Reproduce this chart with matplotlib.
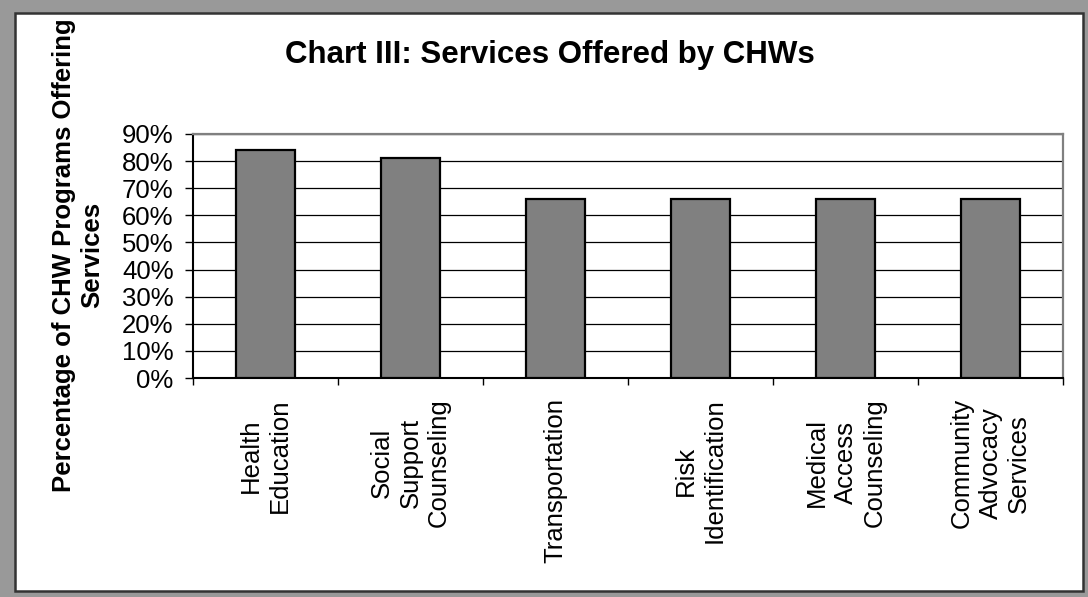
import matplotlib
matplotlib.use("Agg")
import matplotlib.pyplot as plt
from matplotlib.patches import Rectangle
from matplotlib.ticker import FixedLocator, PercentFormatter
import numpy as np

plt.rcParams['font.family'] = ['Liberation Sans', 'DejaVu Sans']

categories = ["Health\nEducation", "Social\nSupport\nCounseling", "Transportation",
              "Risk\nIdentification", "Medical\nAccess\nCounseling",
              "Community\nAdvocacy\nServices"]
values = [0.84, 0.81, 0.66, 0.66, 0.66, 0.66]
y_ticks = [0.0, 0.1, 0.2, 0.3, 0.4, 0.5, 0.6, 0.7, 0.8, 0.9]

W, H = 1088, 597
fig = plt.figure(figsize=(W / 100, H / 100), dpi=100, facecolor="#999999")

# White chart panel with a dark frame, kept behind the axes
panel = Rectangle((15 / W, 1 - 591 / H), (1083 - 15) / W, (591 - 13) / H,
                  transform=fig.transFigure, facecolor="white",
                  edgecolor="#333333", linewidth=1.8, zorder=-5)
fig.patches.append(panel)

ax = fig.add_axes([193 / W, 1 - 378 / H, (1063 - 193) / W, (378 - 134) / H])
ax.set_facecolor("white")

x = np.arange(len(categories))
ax.bar(x, values, width=0.41, color="#808080", edgecolor="black",
       linewidth=1.6, zorder=3)

ax.set_xlim(-0.5, len(categories) - 0.5)
ax.set_ylim(0, 0.9)
ax.set_yticks(y_ticks)
ax.yaxis.set_major_formatter(PercentFormatter(1.0, decimals=0))
ax.grid(axis="y", color="black", linewidth=0.9, zorder=1)
ax.set_axisbelow(True)

ax.set_xticks(x)
ax.set_xticklabels(categories, rotation=90, ha="center", va="top",
                   multialignment="center", linespacing=1.25)
ax.xaxis.set_minor_locator(FixedLocator(np.arange(-0.5, len(categories), 1.0)))
ax.tick_params(axis="x", which="major", length=0, pad=14.5, labelsize=18.5)
ax.tick_params(axis="x", which="minor", length=5, width=1.0, direction="out",
               color="black")
ax.tick_params(axis="y", length=6, width=1.0, direction="out", pad=8.0,
               labelsize=18.5, color="black")

ax.spines["left"].set_color("black")
ax.spines["left"].set_linewidth(1.5)
ax.spines["bottom"].set_color("black")
ax.spines["bottom"].set_linewidth(1.5)
ax.spines["top"].set_color("#808080")
ax.spines["top"].set_linewidth(1.6)
ax.spines["right"].set_color("#808080")
ax.spines["right"].set_linewidth(1.6)

fig.text(550 / W, 1 - 55 / H, "Chart III: Services Offered by CHWs",
         ha="center", va="center", fontsize=22.5, fontweight="bold")

fig.text(78 / W, 1 - 255 / H, "Percentage of CHW Programs Offering\nServices",
         rotation=90, ha="center", va="center", multialignment="center",
         fontsize=18.5, fontweight="bold", linespacing=1.2)

fig.savefig("out.png", dpi=100, facecolor=fig.get_facecolor())
